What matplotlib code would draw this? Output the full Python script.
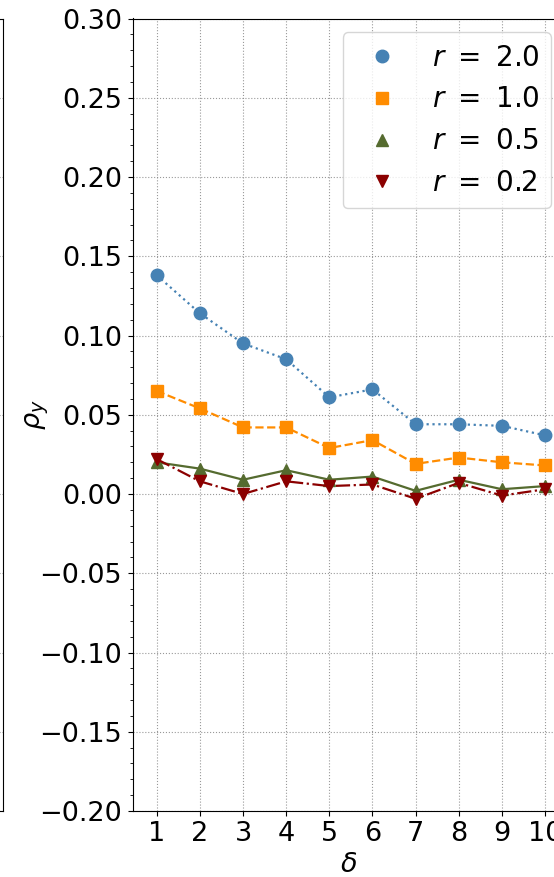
import numpy as np
import matplotlib
matplotlib.use("Agg")
import matplotlib.pyplot as plt
from matplotlib.lines import Line2D

# valores de delta y de rho_y para cada r
delta = [1, 2, 3, 4, 5, 6, 7, 8, 9, 10]
rho_r20 = [0.138, 0.114, 0.095, 0.085, 0.061, 0.066, 0.044, 0.044, 0.043, 0.037]
rho_r10 = [0.065, 0.054, 0.042, 0.042, 0.029, 0.034, 0.019, 0.023, 0.020, 0.018]
rho_r05 = [0.020, 0.016, 0.009, 0.015, 0.009, 0.011, 0.002, 0.009, 0.003, 0.005]
rho_r02 = [0.022, 0.008, 0.000, 0.008, 0.005, 0.006, -0.003, 0.007, -0.001, 0.003]
etiquetas = [r"$r\ =\ 2.0$", r"$r\ =\ 1.0$", r"$r\ =\ 0.5$", r"$r\ =\ 0.2$"]

series = [rho_r20, rho_r10, rho_r05, rho_r02]
colores = ["steelblue", "darkorange", "darkolivegreen", "darkred"]
marcadores = ["o", "s", "^", "v"]
estilos = [":", "--", "-", "-."]

plt.rcParams["font.size"] = 19.5

fig = plt.figure(figsize=(5.54, 8.77), dpi=100)
W, H = 554, 877

# caja de los ejes en pixeles (el borde derecho queda fuera de la figura)
x0, x1 = 133, 564.5
y0, y1 = 811, 18.5
ancho = (x1 - x0) / W
alto = (y0 - y1) / H
abajo = (H - y0) / H

# panel vecino: solo asoma su borde derecho
ax_izq = fig.add_axes([3 / W - ancho, abajo, ancho, alto])
ax_izq.set_ylim(-0.20, 0.30)
ax_izq.set_xlim(0.45, 10.45)
ax_izq.set_yticks(np.arange(-0.20, 0.31, 0.05))
ax_izq.grid(True, linestyle=":", color="gray", alpha=0.8)
ax_izq.tick_params(labelleft=False, labelbottom=False)

ax = fig.add_axes([x0 / W, abajo, ancho, alto])

for vals, c, m, ls in zip(series, colores, marcadores, estilos):
    ax.plot(delta, vals, color=c, marker=m, linestyle=ls,
            linewidth=1.6, markersize=9)

ax.set_xlim(0.45, 10.45)
ax.set_ylim(-0.20, 0.30)
ax.set_xticks(delta)
ax.set_yticks(np.arange(-0.20, 0.31, 0.05))
ax.set_yticks(np.arange(-0.20, 0.301, 0.01), minor=True)
ax.tick_params(axis="y", which="major", pad=4.5)
ax.grid(True, which="major", linestyle=":", color="gray", alpha=0.8)

ax.set_xlabel(r"$\delta$")
ax.set_ylabel(r"$\rho_y$")
ax.yaxis.set_label_coords(-0.19, 0.5)

manijas = [Line2D([], [], color=c, marker=m, linestyle="None", markersize=9)
           for c, m in zip(colores, marcadores)]
ax.legend(manijas, etiquetas, loc="upper right", fontsize=20)

fig.savefig("out.png", dpi=100)
